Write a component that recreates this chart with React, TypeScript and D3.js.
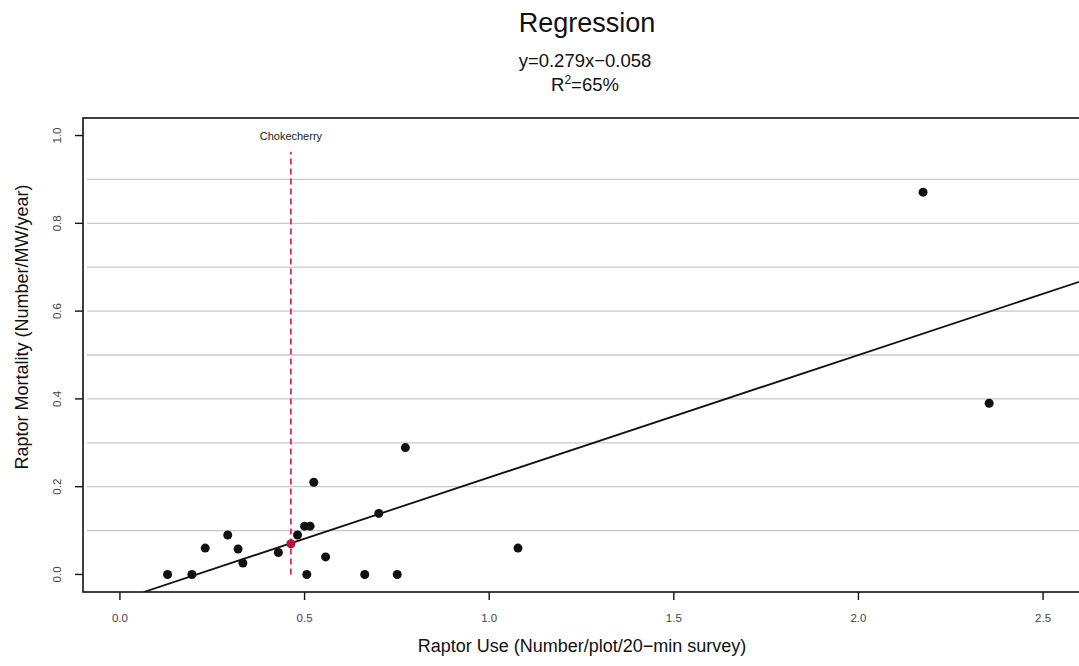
import React from "react";
import * as d3 from "d3";

// values
const raptorUse = [0.129, 0.195, 0.231, 0.292, 0.320, 0.333, 0.429, 0.481, 0.500, 0.515, 0.525, 0.506, 0.557, 0.663, 0.751, 0.701, 0.773, 1.078, 2.175, 2.354];
const raptorMortality = [0.0, 0.0, 0.060, 0.090, 0.058, 0.026, 0.050, 0.090, 0.110, 0.110, 0.210, 0.0, 0.040, 0.0, 0.0, 0.139, 0.289, 0.060, 0.871, 0.390];
const siteName = "Chokecherry";
const siteUse = 0.463;
const siteMortality = 0.070;
const siteLineSpan = [0, 0.963];
const slope = 0.279;
const intercept = -0.058;
const xTicks = [0, 0.5, 1.0, 1.5, 2.0, 2.5];
const yTicks = [0, 0.2, 0.4, 0.6, 0.8, 1.0];
const gridValues = [0.1, 0.2, 0.3, 0.4, 0.5, 0.6, 0.7, 0.8, 0.9];

const width = 1079;
const height = 666;
const font = "'Liberation Sans', Arial, Helvetica, sans-serif";

export default function App() {
	const left = 83, right = 1080, top = 118, bottom = 592;
	const x = d3.scaleLinear().domain([-0.1, 2.6]).range([left, right]);
	const y = d3.scaleLinear().domain([-0.04, 1.04]).range([bottom, top]);
	const fmt = d3.format(".1f");

	const points = raptorUse.map((u, i) => ({ u, m: raptorMortality[i] }));

	// regression line clipped to the box
	const x0 = (y.domain()[0] - intercept) / slope;
	const x1 = x.domain()[1];
	const line = d3.line<number>().x(d => x(d)).y(d => y(slope * d + intercept));

	return (
		<svg width={width} height={height} style={{ position: "absolute", left: 0, top: 0, background: "#fff" }}>
			<defs>
				<clipPath id="plotclip">
					<rect x={left} y={top} width={right - left} height={bottom - top} />
				</clipPath>
			</defs>

			{/* titles */}
			<text x={587} y={32} textAnchor="middle" fontFamily={font} fontSize={27} fill="#111">Regression</text>
			<text x={585} y={67} textAnchor="middle" fontFamily={font} fontSize={18.5} fill="#111">y=0.279x−0.058</text>
			<text x={585} y={91} textAnchor="middle" fontFamily={font} fontSize={18.5} fill="#111">
				R<tspan dy={-7} fontSize={12}>2</tspan><tspan dy={7}>=65%</tspan>
			</text>

			{/* grid */}
			<g clipPath="url(#plotclip)">
				{gridValues.map(g => (
					<line key={g} x1={left + 4} x2={right} y1={y(g)} y2={y(g)} stroke="#c8c8c8" strokeWidth={1.3} />
				))}
			</g>

			{/* box */}
			<rect x={left} y={top} width={right - left} height={bottom - top} fill="none" stroke="#111" strokeWidth={1.6} />

			{/* y axis */}
			{yTicks.map(t => (
				<g key={t}>
					<line x1={left} x2={left - 8} y1={y(t)} y2={y(t)} stroke="#111" strokeWidth={1.4} />
					<text transform={`translate(${left - 22},${y(t)})rotate(-90)`} textAnchor="middle" fontFamily={font} fontSize={11.5} fill="#444">{fmt(t)}</text>
				</g>
			))}
			<text transform={`translate(28,${(top + bottom) / 2 - 28})rotate(-90)`} textAnchor="middle" fontFamily={font} fontSize={18} fill="#111">
				Raptor Mortality (Number/MW/year)
			</text>

			{/* x axis */}
			{xTicks.map(t => (
				<g key={t}>
					<line x1={x(t)} x2={x(t)} y1={bottom} y2={bottom + 8} stroke="#111" strokeWidth={1.4} />
					<text x={x(t)} y={bottom + 30} textAnchor="middle" fontFamily={font} fontSize={11.5} fill="#444">{fmt(t)}</text>
				</g>
			))}
			<text x={582} y={652} textAnchor="middle" fontFamily={font} fontSize={18} fill="#111">
				Raptor Use (Number/plot/20−min survey)
			</text>

			<g clipPath="url(#plotclip)">
				{/* site marker */}
				<line x1={x(siteUse)} x2={x(siteUse)} y1={y(siteLineSpan[0])} y2={y(siteLineSpan[1])} stroke="#cc1848" strokeWidth={1.6} strokeDasharray="6,4" />
				<path d={line([x0, x1]) || ""} fill="none" stroke="#111" strokeWidth={1.8} />
				{points.map((p, i) => (
					<circle key={i} cx={x(p.u)} cy={y(p.m)} r={4.5} fill="#111" />
				))}
				<circle cx={x(siteUse)} cy={y(siteMortality)} r={4.5} fill="#b3143f" />
			</g>
			<text x={x(siteUse)} y={140} textAnchor="middle" fontFamily={font} fontSize={11} fill="#222">{siteName}</text>
		</svg>
	);
}
